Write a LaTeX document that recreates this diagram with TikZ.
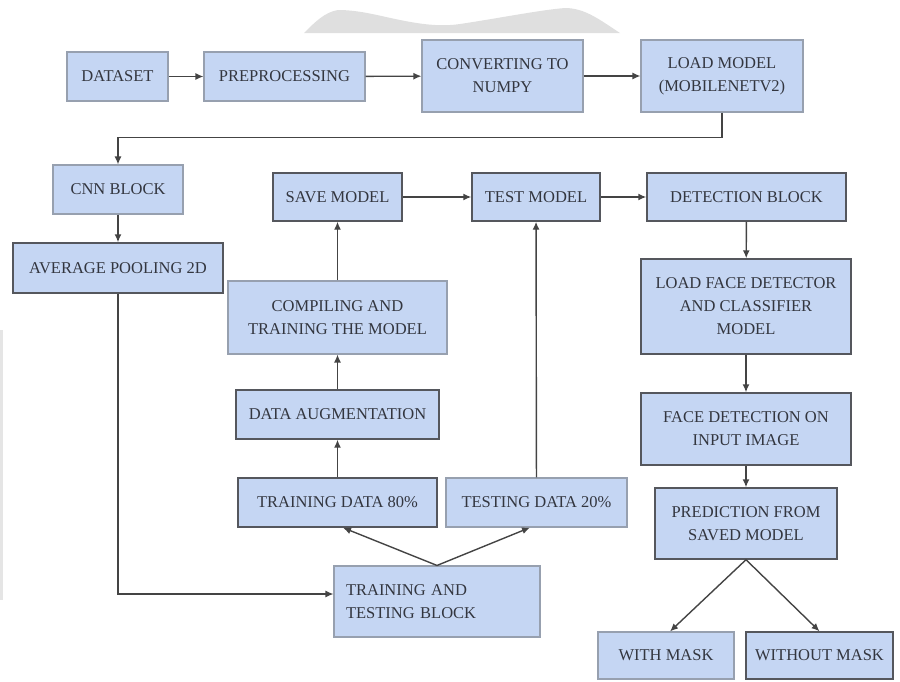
\documentclass[tikz,border=0pt]{standalone}
\usepackage{fontspec}
\setmainfont{Liberation Serif}
\usetikzlibrary{arrows.meta,calc}
\definecolor{boxfill}{HTML}{C5D6F3}
\definecolor{darkedge}{HTML}{55575D}
\definecolor{lightedge}{HTML}{97A0AF}
\definecolor{txt}{HTML}{33363F}
\definecolor{arrcol}{HTML}{444444}
\tikzset{
  boxd/.style={draw=darkedge, line width=1.4pt, fill=boxfill, inner sep=0pt,
    text=txt, font=\fontsize{16.5}{23}\selectfont, align=center},
  boxl/.style={draw=lightedge, line width=1.1pt, fill=boxfill, inner sep=0pt,
    text=txt, font=\fontsize{16.5}{23}\selectfont, align=center},
  arr/.style={draw=arrcol, line width=1.4pt, -{Latex[length=8pt,width=7pt]}}
}
\begin{document}
\begin{tikzpicture}[x=1pt,y=-1pt]
\useasboundingbox (0,0) rectangle (900,681);
% scan artifacts
\fill[gray!25] (304,33) .. controls (315,22) and (325,12) .. (338,10)
  .. controls (360,10) and (380,16) .. (400,20)
  .. controls (420,24) and (440,27) .. (460,24)
  .. controls (500,18) and (540,10) .. (565,8)
  .. controls (585,8) and (600,20) .. (620,33) -- cycle;
\fill[gray!20] (0,330) rectangle (2.5,600);

% nodes
\node[boxl, minimum width=101, minimum height=49] (ds) at (117.5,76.5) {DATASET};
\node[boxl, minimum width=161, minimum height=49] (pre) at (284.5,76.5) {PREPROCESSING};
\node[boxl, minimum width=161, minimum height=72] (conv) at (502.5,76) {CONVERTING TO\\NUMPY};
\node[boxl, minimum width=162, minimum height=72] (load) at (722,76) {LOAD MODEL\\(MOBILENETV2)};
\node[boxl, minimum width=130, minimum height=49] (cnn) at (118,189.5) {CNN BLOCK};
\node[boxd, minimum width=210, minimum height=50] (avg) at (118,268) {AVERAGE POOLING 2D};
\node[boxd, minimum width=129, minimum height=48] (save) at (337.5,197) {SAVE MODEL};
\node[boxl, minimum width=219, minimum height=73] (comp) at (337.5,317.5) {COMPILING AND\\TRAINING THE MODEL};
\node[boxd, minimum width=203, minimum height=49] (aug) at (337.5,414.5) {DATA AUGMENTATION};
\node[boxd, minimum width=199, minimum height=49] (tr) at (337.5,502.5) {TRAINING DATA 80\%};
\node[boxl, minimum width=181, minimum height=49] (te) at (536.5,502.5) {TESTING DATA 20\%};
\node[boxl, minimum width=206, minimum height=71, text width=182, align=left] (ttb) at (437,601.5) {TRAINING AND\\TESTING BLOCK};
\node[boxd, minimum width=128, minimum height=48] (test) at (536,197) {TEST MODEL};
\node[boxd, minimum width=199, minimum height=48] (det) at (746.5,197) {DETECTION BLOCK};
\node[boxd, minimum width=210, minimum height=95] (lfd) at (746,306.5) {LOAD FACE DETECTOR\\AND CLASSIFIER\\MODEL};
\node[boxd, minimum width=210, minimum height=72] (fd) at (746,429) {FACE DETECTION ON\\INPUT IMAGE};
\node[boxd, minimum width=182, minimum height=71] (pred) at (746,523.5) {PREDICTION FROM\\SAVED MODEL};
\node[boxl, minimum width=136, minimum height=47] (wm) at (666,655.5) {WITH MASK};
\node[boxd, minimum width=147, minimum height=47] (wom) at (819.5,655.5) {WITHOUT MASK};

% connectors
\draw[arr] (ds) -- (pre);
\draw[arr] (pre) -- (conv);
\draw[arr] (conv) -- (load);
\draw[arr] (load.south) -- ++(0,25) -| (cnn.north);
\draw[arr] (cnn) -- (avg);
\draw[arr, line width=1.2pt] (avg.south) |- ([yshift=7.5pt]ttb.west);
\draw[arr] (tr) -- (aug);
\draw[arr] (aug) -- (comp);
\draw[arr] (comp) -- (save);
\draw[arr] (save) -- (test);
\draw[arr] (test) -- (det);
\draw[arr] (te) -- (test);
\draw[arr] (ttb.north) -- ([xshift=5.5pt]tr.south);
\draw[arr] (ttb.north) -- ([xshift=-6.5pt]te.south);
\draw[arr] (det) -- (lfd);
\draw[arr] (lfd) -- (fd);
\draw[arr] (fd) -- (pred);
\draw[arr] (pred.south) -- ([xshift=4pt]wm.north);
\draw[arr] (pred.south) -- (wom.north);
\end{tikzpicture}
\end{document}
